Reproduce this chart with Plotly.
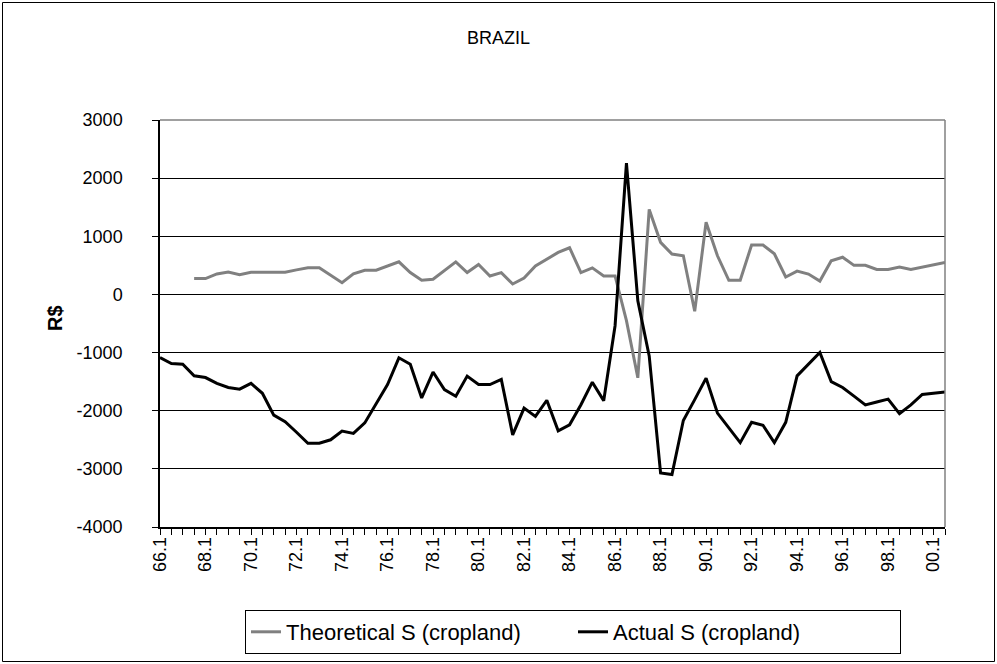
import plotly.graph_objects as go

# Semi-annual periods 66.1 ... 00.2
periods = []
for y in range(1966, 2001):
    for h in (1, 2):
        periods.append(f"{y % 100:02d}.{h}")

tick_labels = [p if (p.endswith(".1") and int(p[:2]) % 2 == 0) else "" for p in periods]

y_ticks = [-4000, -3000, -2000, -1000, 0, 1000, 2000, 3000]
y_tick_text = [str(v) for v in y_ticks]

theoretical = [None, None, None,
               272, 272, 353, 387, 341, 381, 381, 381, 381, 422,
               457, 457, 329, 202, 353, 416, 416, 491, 561, 376,
               243, 260, 416, 560, 376, 514, 318, 376, 179, 283,
               491, 607, 722, 803, 376, 457, 318, 318, -450, -1434,
               1462, 896, 694, 665, -289, 1243, 665, 243, 243, 850,
               850, 700, 300, 400, 350, 230, 580, 640, 500, 500,
               430, 430, 470, 430, 470, 500, 550]

actual = [-1086, -1190, -1200, -1400, -1430, -1530, -1600, -1630, -1530, -1700,
          -2075, -2190, -2370, -2560, -2560, -2500, -2350, -2390, -2210, -1870,
          -1550, -1090, -1200, -1780, -1335, -1636, -1750, -1405, -1550, -1550,
          -1462, -2416, -1954, -2098, -1820, -2347, -2243, -1896, -1509, -1827,
          -538, 2260, -110, -1058, -3069, -3098, -2168, -1809, -1439, -2040,
          -2300, -2549, -2200, -2250, -2550, -2200, -1400, -1200, -1000, -1500,
          -1600, -1750, -1900, -1850, -1800, -2050, -1900, -1720, -1700, -1680]

W, H = 997, 664
L, R, T, B = 160, 945, 120, 527

fig = go.Figure()
fig.add_trace(go.Scatter(x=periods, y=theoretical, mode="lines",
                         name="Theoretical S (cropland)",
                         line=dict(color="#808080", width=3)))
fig.add_trace(go.Scatter(x=periods, y=actual, mode="lines",
                         name="Actual S (cropland)",
                         line=dict(color="#000000", width=3)))

def px_x(x):
    return (x - L) / (R - L)

def px_y(y):
    return (B - y) / (B - T)

shapes = [
    dict(type="rect", xref="paper", yref="paper",
         x0=px_x(2.5), x1=px_x(994.5), y0=px_y(661.5), y1=px_y(2.5),
         line=dict(color="#000000", width=1), layer="below"),
    dict(type="line", xref="paper", yref="paper", x0=0, x1=1, y0=1, y1=1,
         line=dict(color="#808080", width=1.5), layer="above"),
    dict(type="line", xref="paper", yref="paper", x0=1, x1=1, y0=0, y1=1,
         line=dict(color="#808080", width=1.5), layer="above"),
]

annotations = [
    dict(text="<b>R$</b>", xref="paper", yref="paper",
         x=px_x(55), y=px_y(318), xanchor="center", yanchor="middle",
         textangle=-90, showarrow=False, font=dict(size=20)),
]

fig.update_layout(
    width=W, height=H,
    margin=dict(l=L, r=W - R, t=T, b=H - B, autoexpand=False),
    paper_bgcolor="white", plot_bgcolor="white",
    font=dict(family="Liberation Sans, Arial, sans-serif", color="#000000"),
    title=dict(text="BRAZIL", x=0.5, xref="container", xanchor="center",
               y=1 - 38 / H, yref="container", yanchor="middle",
               font=dict(size=18)),
    showlegend=True,
    legend=dict(orientation="h", x=px_x(245), xanchor="left",
                y=px_y(610), yanchor="top",
                bordercolor="#000000", borderwidth=1, bgcolor="white",
                font=dict(size=22), traceorder="normal",
                entrywidth=282, entrywidthmode="pixels"),
    shapes=shapes,
    annotations=annotations,
)

fig.update_xaxes(type="category", categoryorder="array", categoryarray=periods,
                 range=[0, len(periods) - 1],
                 tickmode="array", tickvals=periods, ticktext=tick_labels,
                 tickangle=-90, ticks="outside", ticklen=6, tickcolor="#000000",
                 ticklabelstandoff=-5,
                 showline=True, linecolor="#000000", linewidth=1.5,
                 showgrid=False, zeroline=False,
                 tickfont=dict(size=18))
fig.update_yaxes(range=[-4000, 3000], tickmode="array",
                 tickvals=y_ticks, ticktext=y_tick_text,
                 ticks="outside", ticklen=6, tickcolor="#000000",
                 ticklabelstandoff=26,
                 showline=True, linecolor="#000000", linewidth=1.5,
                 showgrid=True, gridcolor="#000000", gridwidth=1,
                 zeroline=False, tickfont=dict(size=18))

fig.write_html("out.html", config={"displayModeBar": False},
               post_script="document.body.style.margin='0';document.body.style.overflow='hidden';")
